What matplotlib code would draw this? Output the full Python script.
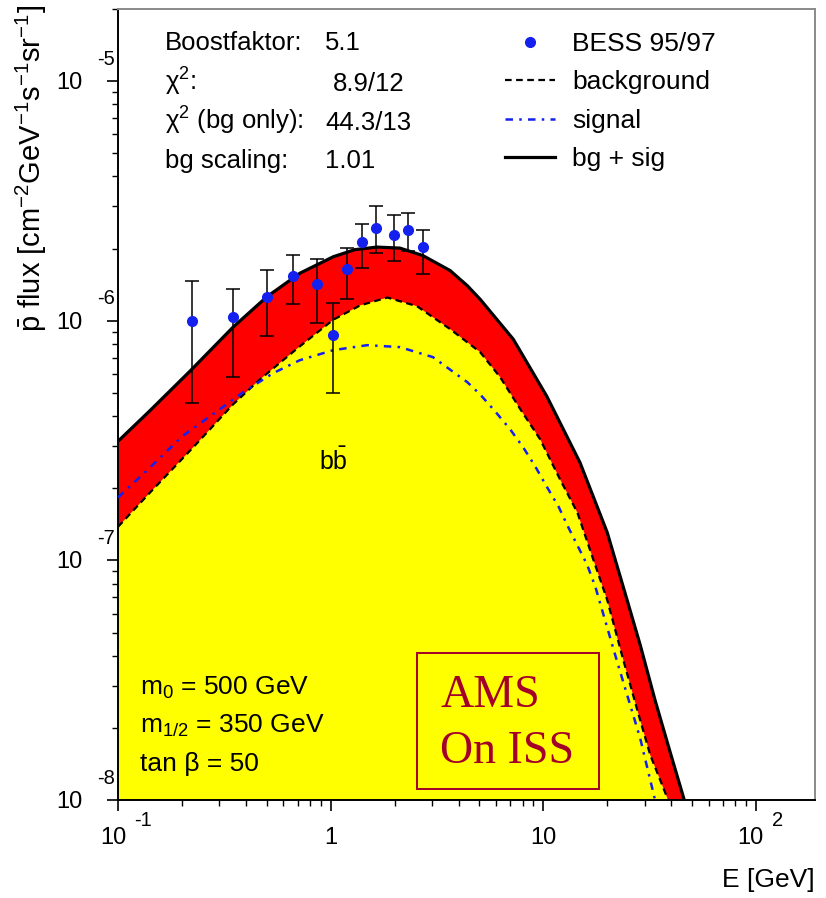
import matplotlib

matplotlib.use("Agg")

import matplotlib.pyplot as plt
import matplotlib.transforms as mtransforms
from matplotlib.patches import Rectangle
from matplotlib.ticker import LogLocator, NullFormatter

plt.rcParams["font.family"] = ["Liberation Sans", "DejaVu Sans"]
plt.rcParams["mathtext.fontset"] = "custom"
plt.rcParams["mathtext.rm"] = "Liberation Sans"
plt.rcParams["mathtext.it"] = "Liberation Sans:italic"
plt.rcParams["mathtext.bf"] = "Liberation Sans:bold"

# model curves: antiproton flux vs kinetic energy
E_TOTAL = [0.100, 0.1415, 0.218, 0.348, 0.502, 0.718, 1.03, 1.30, 1.65, 2.12, 2.72,
           3.65, 4.40, 5.05, 7.23, 10.4, 14.9, 20.0, 24.8, 28.6, 33.6, 39.6, 46.1, 52.0]
F_TOTAL = [3.14e-7, 4.22e-7, 6.16e-7, 9.41e-7, 1.26e-6, 1.58e-6, 1.85e-6, 1.98e-6,
           2.03e-6, 2.01e-6, 1.87e-6, 1.62e-6, 1.40e-6, 1.23e-6, 8.38e-7, 4.84e-7,
           2.56e-7, 1.31e-7, 6.85e-8, 4.44e-8, 2.61e-8, 1.58e-8, 1.0e-8, 5.0e-9]

E_BG = [0.100, 0.1415, 0.2255, 0.348, 0.466, 0.718, 1.03, 1.38, 1.85, 2.55, 3.65,
        5.05, 6.28, 7.80, 9.68, 12.0, 14.5, 17.2, 20.0, 23.8, 27.7, 31.9, 38.7, 44.0]
F_BG = [1.38e-7, 1.92e-7, 2.96e-7, 4.48e-7, 5.70e-7, 7.83e-7, 1.01e-6, 1.16e-6,
        1.25e-6, 1.15e-6, 9.23e-7, 7.40e-7, 5.81e-7, 4.28e-7, 3.20e-7, 2.18e-7,
        1.58e-7, 1.01e-7, 6.85e-8, 3.85e-8, 2.38e-8, 1.54e-8, 1.0e-8, 5.0e-9]

E_SIG = [0.100, 0.1415, 0.200, 0.292, 0.388, 0.536, 0.718, 1.03, 1.49, 2.12, 3.03,
         4.39, 5.05, 5.94, 7.00, 8.06, 9.17, 10.4, 11.8, 13.1, 14.6, 16.1, 17.6,
         22.3, 28.6, 33.6, 38.0]
F_SIG = [1.83e-7, 2.44e-7, 3.29e-7, 4.19e-7, 5.03e-7, 6.04e-7, 6.85e-7, 7.54e-7,
         7.91e-7, 7.76e-7, 7.05e-7, 5.55e-7, 4.93e-7, 4.19e-7, 3.52e-7, 2.96e-7,
         2.47e-7, 2.03e-7, 1.68e-7, 1.38e-7, 1.14e-7, 9.59e-8, 7.76e-8, 3.77e-8,
         1.81e-8, 1.0e-8, 5.0e-9]

# BESS 95/97 measurements with asymmetric errors
BESS_E = [0.222, 0.349, 0.501, 0.668, 0.861, 1.03, 1.19, 1.40, 1.64, 1.98, 2.32, 2.72]
BESS_F = [1.00e-6, 1.04e-6, 1.26e-6, 1.53e-6, 1.43e-6, 8.71e-7, 1.64e-6, 2.13e-6,
          2.44e-6, 2.27e-6, 2.40e-6, 2.03e-6]
BESS_HI = [1.47e-6, 1.36e-6, 1.63e-6, 1.88e-6, 1.81e-6, 1.19e-6, 2.01e-6, 2.54e-6,
           3.00e-6, 2.77e-6, 2.81e-6, 2.40e-6]
BESS_LO = [4.53e-7, 5.85e-7, 8.61e-7, 1.17e-6, 9.75e-7, 4.98e-7, 1.23e-6, 1.66e-6,
           1.92e-6, 1.77e-6, 1.96e-6, 1.57e-6]

X_TICKS = [0.1, 1, 10, 100]
X_TICK_TEXT = [("10", "-1"), ("1", ""), ("10", ""), ("10", "2")]
Y_TICKS = [1e-5, 1e-6, 1e-7, 1e-8]
Y_TICK_TEXT = ["-5", "-6", "-7", "-8"]

FIT_INFO = [("Boostfaktor:", "5.1"), ("χ$^2$:", "8.9/12"),
            ("χ$^2$ (bg only):", "44.3/13"), ("bg scaling:", "1.01")]
MODEL_INFO = ["m$_0$ = 500 GeV", "m$_{1/2}$ = 350 GeV", "tan β = 50"]

RED = "#ff0000"
YELLOW = "#ffff00"
BLUE = "#1420ee"
MAROON = "#a3002a"
FRAME = "#8a8a8a"
FLOOR = 1e-10

fig = plt.figure(figsize=(8.26, 8.98), dpi=100, facecolor="white")
ax = fig.add_axes([118 / 826, 1 - 800 / 898, 697 / 826, 791 / 898])
ax.set_xscale("log")
ax.set_yscale("log")
ax.set_xlim(0.1, 190)
ax.set_ylim(1e-8, 2e-5)

ax.fill_between(E_TOTAL, FLOOR, F_TOTAL, color=RED, lw=0, zorder=1)
ax.fill_between(E_BG, FLOOR, F_BG, color=YELLOW, lw=0, zorder=1.5)
(tot_line,) = ax.plot(E_TOTAL, F_TOTAL, color="black", lw=2.3, zorder=3,
                      solid_joinstyle="round")
(bg_line,) = ax.plot(E_BG, F_BG, color="black", lw=1.6, ls=(0, (3, 2)), zorder=3)
(sig_line,) = ax.plot(E_SIG, F_SIG, color=BLUE, lw=1.8, ls=(0, (3, 2.5, 1, 2.5)), zorder=3)

err_lo = [f - lo for f, lo in zip(BESS_F, BESS_LO)]
err_hi = [hi - f for f, hi in zip(BESS_F, BESS_HI)]
ax.errorbar(BESS_E, BESS_F, yerr=[err_lo, err_hi], fmt="none", ecolor="black",
            elinewidth=1.1, capsize=5, capthick=1.1, zorder=4)
(pts,) = ax.plot(BESS_E, BESS_F, "o", color=BLUE, ms=7, ls="none", zorder=5)

# axis frame: dark left/bottom, grey top/right
for side in ["left", "bottom"]:
    ax.spines[side].set_color("black")
    ax.spines[side].set_linewidth(1.4)
for side in ["top", "right"]:
    ax.spines[side].set_color(FRAME)
    ax.spines[side].set_linewidth(1.4)

ax.xaxis.set_major_locator(LogLocator(base=10, numticks=10))
ax.xaxis.set_minor_locator(LogLocator(base=10, subs=range(2, 10), numticks=20))
ax.yaxis.set_major_locator(LogLocator(base=10, numticks=10))
ax.yaxis.set_minor_locator(LogLocator(base=10, subs=range(2, 10), numticks=20))
ax.xaxis.set_major_formatter(NullFormatter())
ax.xaxis.set_minor_formatter(NullFormatter())
ax.yaxis.set_major_formatter(NullFormatter())
ax.yaxis.set_minor_formatter(NullFormatter())
ax.tick_params(which="major", direction="out", length=8, width=1.2, color="black")
ax.tick_params(which="minor", direction="out", length=4, width=1.0, color="black")
ax.tick_params(top=False, right=False, which="both")

# ROOT-style power labels
ytrans = ax.get_yaxis_transform()
for val, exp in zip(Y_TICKS, Y_TICK_TEXT):
    base_t = mtransforms.offset_copy(ytrans, fig=fig, x=-36, y=-2, units="dots")
    exp_t = mtransforms.offset_copy(ytrans, fig=fig, x=-21, y=22, units="dots")
    ax.text(0, val, "10", transform=base_t, ha="right", va="center", fontsize=17)
    ax.text(0, val, exp, transform=exp_t, ha="left", va="center", fontsize=14.5)

xtrans = ax.get_xaxis_transform()
for val, (base, exp) in zip(X_TICKS, X_TICK_TEXT):
    shift = -5 if exp else 0
    base_t = mtransforms.offset_copy(xtrans, fig=fig, x=shift, y=-38, units="dots")
    ax.text(val, 0, base, transform=base_t, ha="center", va="center", fontsize=17)
    if exp:
        exp_t = mtransforms.offset_copy(xtrans, fig=fig, x=16, y=-20, units="dots")
        ax.text(val, 0, exp, transform=exp_t, ha="left", va="center", fontsize=14.5)

ax.text(1.0, -0.101, "E [GeV]", transform=ax.transAxes, ha="right", va="center",
        fontsize=19)
ax.text(-0.124, 1.005,
        r"$\bar{\mathrm{p}}$ flux [cm$^{-2}$GeV$^{-1}$s$^{-1}$sr$^{-1}$]",
        transform=ax.transAxes, rotation=90, ha="center", va="top", fontsize=21)

# fit summary block
rows_y = [0.948, 0.8963, 0.847, 0.799]
for (name, value), y in zip(FIT_INFO, rows_y):
    ax.text(0.0674, y, name, transform=ax.transAxes, ha="left", va="baseline", fontsize=18.5)
    vx = 0.3085 if value == "8.9/12" else 0.297
    ax.text(vx, y, value, transform=ax.transAxes, ha="left", va="baseline", fontsize=18.5)

ax.legend([pts, bg_line, sig_line, tot_line],
          ["BESS 95/97", "background", "signal", "bg + sig"],
          loc="upper left", bbox_to_anchor=(0.555, 0.971), frameon=False,
          borderpad=0, borderaxespad=0, handlelength=1.9, handletextpad=0.64,
          labelspacing=0.55, fontsize=19, numpoints=1)

ax.text(1.03, 2.59e-7, r"b$\bar{\mathrm{b}}$", ha="center", va="center", fontsize=18)

for line, y in zip(MODEL_INFO, [0.1327, 0.0847, 0.0367]):
    ax.text(0.0316, y, line, transform=ax.transAxes, ha="left", va="baseline", fontsize=19)

ax.add_patch(Rectangle((0.429, 0.0139), 0.261, 0.172, transform=ax.transAxes,
                       fill=False, edgecolor=MAROON, lw=1.4, zorder=6))
ax.text(0.462, 0.1176, "AMS", transform=ax.transAxes, ha="left", va="baseline",
        fontsize=33, family="Liberation Serif", color=MAROON, zorder=6)
ax.text(0.462, 0.0468, "On ISS", transform=ax.transAxes, ha="left", va="baseline",
        fontsize=33, family="Liberation Serif", color=MAROON, zorder=6)

fig.savefig("out.png", dpi=100, facecolor="white")
